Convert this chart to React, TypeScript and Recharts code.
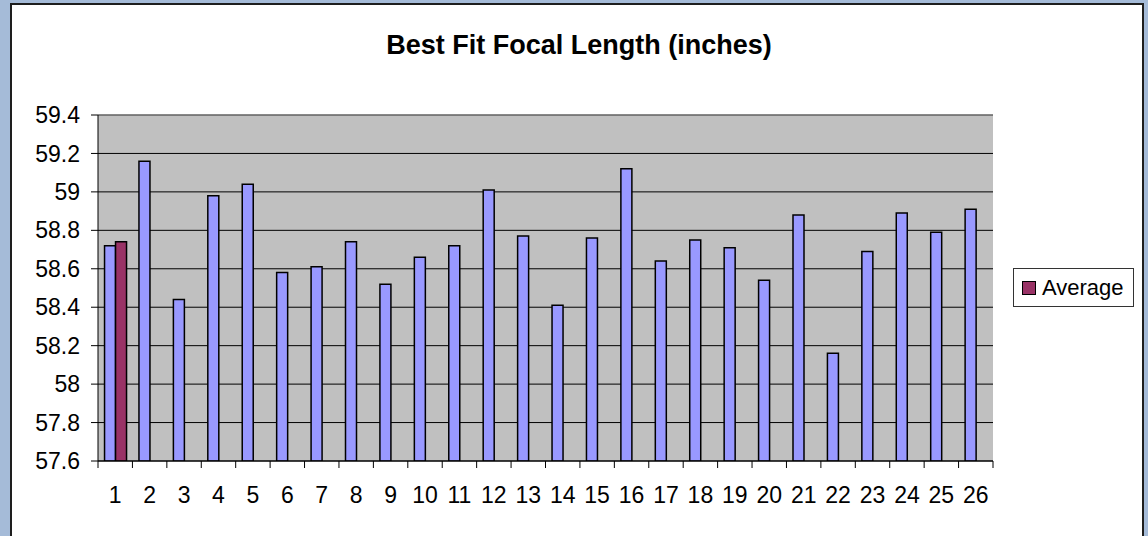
import React from 'react';
import { BarChart, Bar, XAxis, YAxis, CartesianGrid, Legend, ReferenceLine } from 'recharts';

const categories = ['1','2','3','4','5','6','7','8','9','10','11','12','13','14','15','16','17','18','19','20','21','22','23','24','25','26'];
const focalLengths = [58.72, 59.16, 58.44, 58.98, 59.04, 58.58, 58.61, 58.74, 58.52, 58.66, 58.72, 59.01, 58.77, 58.41, 58.76, 59.12, 58.64, 58.75, 58.71, 58.54, 58.88, 58.16, 58.69, 58.89, 58.79, 58.91];
const averageValues = [58.74];
const yTicks = [57.6, 57.8, 58, 58.2, 58.4, 58.6, 58.8, 59, 59.2, 59.4];
const titleText = 'Best Fit Focal Length (inches)';
const seriesName = 'Focal Length';
const averageName = 'Average';

const data = categories.map((c, i) => ({
  cat: c,
  focal: focalLengths[i],
  avg: i < averageValues.length ? averageValues[i] : null,
}));

const FONT = '"Liberation Sans", Arial, sans-serif';
const X_TICK_SIZE = 7;
const X_TICK_MARGIN = 19;

const XTick = (props: any) => {
  const { x, y, payload, index, width } = props;
  const half = payload && typeof payload.offset === 'number' && payload.offset > 0
    ? payload.offset
    : width / (2 * categories.length);
  const axisY = y - X_TICK_SIZE - X_TICK_MARGIN;
  return (
    <g>
      <line x1={x - half} x2={x - half} y1={axisY} y2={axisY + X_TICK_SIZE} stroke="#000" strokeWidth={1} />
      {index === categories.length - 1 && (
        <line x1={x + half} x2={x + half} y1={axisY} y2={axisY + X_TICK_SIZE} stroke="#000" strokeWidth={1} />
      )}
      <text x={x} y={y} dy="0.71em" textAnchor="middle" fill="#000" fontSize={23} fontFamily={FONT}>
        {payload.value}
      </text>
    </g>
  );
};

const LegendBox = (props: any) => {
  const items = (props.payload || []).filter((p: any) => p.value === averageName);
  return (
    <div style={{ width: 121, height: 39, boxSizing: 'border-box', border: '1px solid #333', background: '#fff', display: 'flex', alignItems: 'center', paddingLeft: 8 }}>
      {items.map((it: any) => (
        <div key={it.value} style={{ display: 'flex', alignItems: 'center' }}>
          <span style={{ display: 'inline-block', width: 12, height: 12, background: '#993366', border: '1px solid #000', marginRight: 6 }} />
          <span style={{ fontFamily: FONT, fontSize: 22, color: '#000', lineHeight: '22px' }}>{it.value}</span>
        </div>
      ))}
    </div>
  );
};

export default function App() {
  return (
    <div style={{ position: 'absolute', left: 0, top: 0, width: 1148, height: 536, background: '#A5BBD8', overflow: 'hidden' }}>
      <div style={{ position: 'absolute', left: 10, top: 3, width: 1130, height: 560, background: '#fff', border: '2px solid #1e1e1e' }} />
      <div style={{ position: 'absolute', left: 0, top: 0 }}>
        <BarChart
          width={1148}
          height={536}
          data={data}
          margin={{ top: 115, right: 34, bottom: 45, left: 0 }}
          barCategoryGap="19%"
          barGap={0}
        >
          <text x={579} y={54} textAnchor="middle" fontFamily={FONT} fontWeight="bold" fontSize={27} fill="#000">
            {titleText}
          </text>
          <CartesianGrid vertical={false} stroke="#000" fill="#C0C0C0" fillOpacity={1} />
          <XAxis
            dataKey="cat"
            height={30}
            interval={0}
            tickLine={false}
            tickSize={X_TICK_SIZE}
            tickMargin={X_TICK_MARGIN}
            axisLine={{ stroke: '#000', strokeWidth: 1 }}
            tick={<XTick />}
          />
          <YAxis
            width={98}
            domain={[57.6, 59.4]}
            ticks={yTicks}
            allowDataOverflow
            interval={0}
            tickSize={7}
            tickMargin={11}
            axisLine={{ stroke: '#000', strokeWidth: 1 }}
            tickLine={{ stroke: '#000' }}
            tick={{ fill: '#000', fontSize: 23, fontFamily: FONT }}
          />
          <YAxis
            yAxisId="r"
            orientation="right"
            width={0}
            domain={[57.6, 59.4]}
            tick={false}
            tickLine={false}
            axisLine={{ stroke: '#808080', strokeWidth: 1 }}
          />
          <ReferenceLine y={59.4} stroke="#909090" strokeWidth={1} />
          <Bar dataKey="focal" name={seriesName} legendType="none" fill="#9999FF" stroke="#000" strokeWidth={1.5} isAnimationActive={false} />
          <Bar dataKey="avg" name={averageName} fill="#993366" stroke="#000" strokeWidth={1.5} isAnimationActive={false} />
          <Legend
            layout="horizontal"
            verticalAlign="middle"
            align="right"
            wrapperStyle={{ left: 1013, top: 268, width: 121, height: 39 }}
            content={<LegendBox />}
          />
        </BarChart>
      </div>
    </div>
  );
}
